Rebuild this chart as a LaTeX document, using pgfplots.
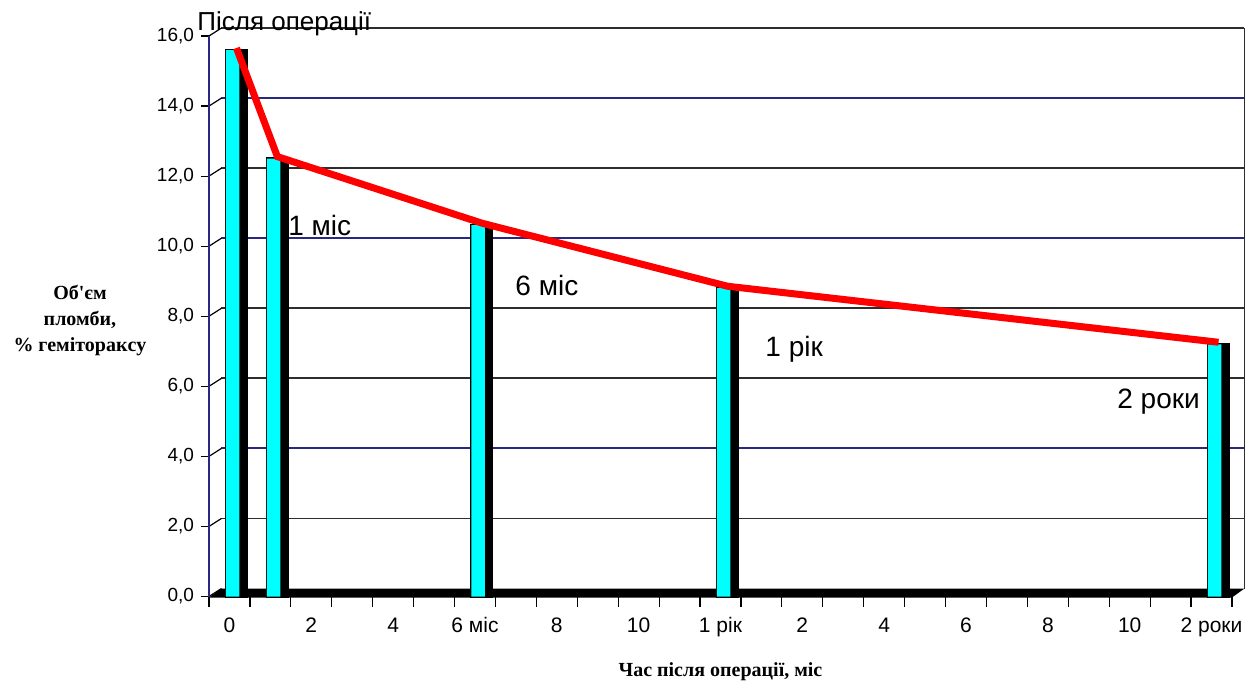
\documentclass[border=0pt]{standalone}
\usepackage{pgfplots}
\pgfplotsset{compat=1.18}
\usepackage{fontspec}
\setmainfont{Liberation Sans}
\newfontfamily\timesfont{Liberation Serif}

\definecolor{barcyan}{RGB}{0,255,255}
\definecolor{gridnavy}{RGB}{40,40,130}
\definecolor{gridgray}{RGB}{45,45,45}

% depth of the pseudo-3D walls
\def\dx{6.25pt}
\def\dy{4pt}

\begin{document}
\begin{tikzpicture}
\useasboundingbox (-104.5pt,-42.75pt) rectangle (520.5pt,298.25pt);
\begin{axis}[
  at={(0,0)}, anchor=south west,
  scale only axis, width=511.5pt, height=280.25pt,
  xmin=-0.5, xmax=24.5, ymin=0, ymax=16,
  clip=false,
  axis line style={draw=none},
  tick pos=left,
  tick align=outside,
  /pgf/number format/assume math mode=true,
  xtick={0,2,...,24},
  xticklabels={0,2,4,6 міс,8,10,1 рік,2,4,6,8,10,2 роки},
  minor xtick={-0.5,0.5,...,24.5},
  major x tick style={draw=none},
  minor x tick style={black, line width=0.6pt},
  minor tick length=5pt,
  major tick length=4pt,
  ytick={0,2,...,16},
  y tick style={black, line width=0.6pt},
  x tick label style={font=\fontsize{10.5}{10.5}\selectfont, yshift=-3pt},
  y tick label style={font=\fontsize{9.5}{9.5}\selectfont,
    /pgf/number format/fixed, /pgf/number format/fixed zerofill,
    /pgf/number format/precision=1, /pgf/number format/use comma},
]
% back wall grid
\pgfplotsinvokeforeach{2,6,8,12,16}{
  \draw[gridgray, line width=0.9pt] ([shift={(\dx,\dy)}]axis cs:-0.5,#1) -- ([shift={(\dx,\dy)}]axis cs:24.5,#1);
}
\pgfplotsinvokeforeach{4,10,14}{
  \draw[gridnavy, line width=0.9pt] ([shift={(\dx,\dy)}]axis cs:-0.5,#1) -- ([shift={(\dx,\dy)}]axis cs:24.5,#1);
}
\draw[gridgray, line width=0.9pt] ([shift={(\dx,\dy)}]axis cs:24.5,0) -- ([shift={(\dx,\dy)}]axis cs:24.5,16);
% left wall, seen edge-on
\pgfplotsinvokeforeach{0,2,...,16}{
  \draw[black, line width=0.6pt] (axis cs:-0.5,#1) -- ++(\dx,\dy);
}
\draw[gridnavy, line width=0.8pt] (axis cs:-0.5,0) -- (axis cs:-0.5,16);
% floor
\fill[black] ([yshift=-0.5pt]axis cs:-0.5,0) -- ([yshift=-0.5pt]axis cs:24.5,0) -- ([shift={(\dx,\dy)}]axis cs:24.5,0) -- ([shift={(\dx,\dy)}]axis cs:-0.5,0) -- cycle;

% bars: dark side, then cyan face
\addplot[ybar, bar width=10pt, bar shift=3.5pt, fill=black, draw=black, line width=1.5pt]
  coordinates {(0,15.6) (1,12.5) (6,10.6) (12,8.8) (24,7.2)};
\addplot[ybar, bar width=6.75pt, bar shift=1.6pt, fill=barcyan, draw=none]
  coordinates {(0,15.6) (1,12.5) (6,10.6) (12,8.8) (24,7.2)};
% trend line through the bar tops
\addplot[red, line width=3.5pt, mark=none, xshift=3.5pt, yshift=1pt]
  coordinates {(0,15.6) (1,12.5) (6,10.6) (12,8.8) (24,7.2)};

% annotations
\node[anchor=west, font=\fontsize{14}{14}\selectfont, inner sep=0pt] at (axis cs:1.43,10.6) {1 міс};
\node[anchor=west, font=\fontsize{14}{14}\selectfont, inner sep=0pt] at (axis cs:6.98,8.89) {6 міс};
\node[anchor=west, font=\fontsize{14}{14}\selectfont, inner sep=0pt] at (axis cs:13.09,7.07) {1 рік};
\node[anchor=west, font=\fontsize{14}{14}\selectfont, inner sep=0pt] at (axis cs:21.69,5.55) {2 роки};
\node[anchor=west, font=\fontsize{13}{13}\selectfont, inner sep=0pt] at ([shift={(-6pt,6pt)}]rel axis cs:0,1) {Після операції};

% axis titles
\node[font=\timesfont\bfseries\fontsize{10}{13}\selectfont, align=center]
  at ([shift={(-64.5pt,138.25pt)}]rel axis cs:0,0) {Об'єм\\пломби,\\\% геміторакcу};
\node[font=\timesfont\bfseries\fontsize{10}{10}\selectfont]
  at ([yshift=-37.75pt]rel axis cs:0.5,0) {Час після операції, міс};
\end{axis}
\end{tikzpicture}
\end{document}
